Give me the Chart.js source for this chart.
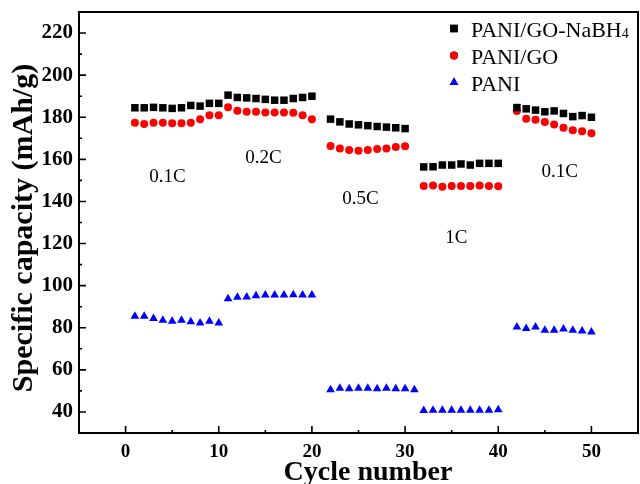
<!DOCTYPE html>
<html>
<head>
<meta charset="utf-8">
<script src="https://cdn.jsdelivr.net/npm/chart.js@4/dist/chart.umd.min.js"></script>
<style>
  html, body { margin: 0; padding: 0; background: #fff; }
  #wrap { width: 640px; height: 484px; }
</style>
</head>
<body>
<div id="wrap"><canvas id="rateChart"></canvas></div>
<script>
// rate capability data
var cyclesNaBH4 = [1,2,3,4,5,6,7,8,9,10, 11,12,13,14,15,16,17,18,19,20,
                   22,23,24,25,26,27,28,29,30, 32,33,34,35,36,37,38,39,40,
                   42,43,44,45,46,47,48,49,50];
var capNaBH4 = [184.5,184.5,184.7,184.5,184.2,184.5,185.6,185.3,186.6,186.6,
                190.5,189.4,189.2,188.9,188.5,188.1,188.1,188.9,189.4,190.0,
                179.1,177.8,176.8,176.4,176.0,175.6,175.3,175.0,174.6,
                156.4,156.5,157.3,157.3,157.8,157.3,158.1,158.1,158.1,
                184.6,184.0,183.4,182.6,183.0,181.8,180.3,180.8,180.0];

var cyclesGO = [1,2,3,4,5,6,7,8,9,10, 11,12,13,14,15,16,17,18,19,20,
                22,23,24,25,26,27,28,29,30, 32,33,34,35,36,37,38,39,40,
                42,43,44,45,46,47,48,49,50];
var capGO = [177.4,176.8,177.4,177.4,177.1,177.1,177.4,179.1,181.0,181.0,
             184.7,183.1,182.6,182.6,182.3,182.3,182.3,182.1,181.0,179.1,
             166.3,165.2,164.4,164.1,164.4,164.9,165.2,165.9,166.2,
             147.3,147.6,147.0,147.3,147.3,147.3,147.6,147.3,147.2,
             183.0,179.3,178.8,177.8,176.6,175.0,173.8,173.3,172.4];

var cyclesPANI = [1,2,3,4,5,6,7,8,9,10, 11,12,13,14,15,16,17,18,19,20,
                  22,23,24,25,26,27,28,29,30,31, 32,33,34,35,36,37,38,39,40,
                  42,43,44,45,46,47,48,49,50];
var capPANI = [85.5,85.5,84.4,83.6,83.1,83.6,82.8,82.3,83.1,82.3,
               93.8,94.5,94.6,95.2,95.5,95.5,95.6,95.7,95.5,95.5,
               50.5,51.3,51.0,51.3,51.3,51.0,51.3,51.0,51.0,50.6,
               40.7,40.8,40.8,40.8,40.8,40.8,40.8,40.8,41.0,
               80.4,79.6,80.4,78.8,78.8,79.4,78.8,78.5,78.0];

var seriesNames = ['PANI/GO-NaBH4', 'PANI/GO', 'PANI'];
var xTicks = [0, 10, 20, 30, 40, 50];
var yTicks = [40, 60, 80, 100, 120, 140, 160, 180, 200, 220];
var xTitle = 'Cycle number';
var yTitle = 'Specific capacity (mAh/g)';

// current-rate labels placed in data coordinates
var rateNotes = [
  { text: '0.1C', x: 4.5, y: 151.5 },
  { text: '0.2C', x: 14.8, y: 160.5 },
  { text: '0.5C', x: 25.2, y: 141 },
  { text: '1C', x: 35.5, y: 122.5 },
  { text: '0.1C', x: 46.6, y: 154 }
];

function toPoints(xs, ys) {
  return xs.map(function (c, i) { return { x: c, y: ys[i] }; });
}

var serif = '"Liberation Serif", "Times New Roman", serif';

// frame, inward tick marks, rate notes, axis titles and the legend
var decorations = {
  id: 'decorations',
  beforeDatasetsDraw: function (chart) {
    var ctx = chart.ctx, a = chart.chartArea, sx = chart.scales.x, sy = chart.scales.y;
    ctx.save();
    ctx.strokeStyle = '#000';
    ctx.lineWidth = 1.6;
    ctx.beginPath();
    for (var v = 0; v <= 50; v += 5) {
      var px = sx.getPixelForValue(v);
      var len = (v % 10 === 0) ? 7 : 3;
      ctx.moveTo(px, a.bottom); ctx.lineTo(px, a.bottom - len);
    }
    for (var w = 40; w <= 220; w += 10) {
      var py = sy.getPixelForValue(w);
      var l2 = (w % 20 === 0) ? 7 : 3;
      ctx.moveTo(a.left, py); ctx.lineTo(a.left + l2, py);
    }
    ctx.stroke();
    ctx.lineWidth = 2;
    ctx.strokeRect(a.left, a.top, a.right - a.left, a.bottom - a.top);

    ctx.fillStyle = '#000';
    ctx.font = '19px ' + serif;
    ctx.textAlign = 'center';
    ctx.textBaseline = 'middle';
    rateNotes.forEach(function (n) {
      ctx.fillText(n.text, sx.getPixelForValue(n.x), sy.getPixelForValue(n.y));
    });

    // axis titles
    ctx.font = 'bold 28px ' + serif;
    ctx.textBaseline = 'alphabetic';
    ctx.fillText(xTitle, 368, 480);
    ctx.save();
    ctx.translate(24, 228);
    ctx.rotate(-Math.PI / 2);
    ctx.font = 'bold 30px ' + serif;
    ctx.textBaseline = 'middle';
    ctx.fillText(yTitle, 0, 0);
    ctx.restore();
    ctx.restore();
  },
  afterDraw: function (chart) {
    var ctx = chart.ctx;
    ctx.save();
    chart.data.datasets.forEach(function (ds, i) {
      var my = 28.5 + i * 27;
      Chart.helpers.drawPoint(ctx, {
        pointStyle: ds.pointStyle, radius: ds.pointRadius, rotation: 0, borderWidth: 0
      }, 454, my);
      ctx.fillStyle = ds.backgroundColor;
      ctx.fill();
      var label = ds.label;
      var sub = '';
      if (/\d$/.test(label)) { sub = label.slice(-1); label = label.slice(0, -1); }
      ctx.fillStyle = '#000';
      ctx.textAlign = 'left';
      ctx.textBaseline = 'alphabetic';
      ctx.font = '22px ' + serif;
      ctx.fillText(label, 471, my + 8);
      if (sub) {
        var wdt = ctx.measureText(label).width;
        ctx.font = '14px ' + serif;
        ctx.fillText(sub, 471 + wdt, my + 9);
      }
    });
    ctx.restore();
  }
};

document.addEventListener("DOMContentLoaded", function () {
  var ctx = document.getElementById('rateChart').getContext('2d');
  new Chart(ctx, {
    type: 'scatter',
    data: {
      datasets: [{
        label: seriesNames[0],
        data: toPoints(cyclesNaBH4, capNaBH4),
        pointStyle: 'rect',
        pointRadius: 5.3,
        backgroundColor: '#000000',
        borderColor: '#000000',
        borderWidth: 0
      }, {
        label: seriesNames[1],
        data: toPoints(cyclesGO, capGO),
        pointStyle: 'circle',
        pointRadius: 4,
        backgroundColor: '#ff0000',
        borderColor: '#ff0000',
        borderWidth: 0
      }, {
        label: seriesNames[2],
        data: toPoints(cyclesPANI, capPANI),
        pointStyle: 'triangle',
        pointRadius: 5,
        backgroundColor: '#0000ff',
        borderColor: '#0000ff',
        borderWidth: 0
      }]
    },
    options: {
      responsive: true,
      maintainAspectRatio: false,
      animation: false,
      layout: { autoPadding: false, padding: { top: 12, right: 2, left: 0, bottom: 0 } },
      plugins: {
        legend: { display: false },
        tooltip: { enabled: false }
      },
      scales: {
        x: {
          type: 'linear',
          min: -5,
          max: 55,
          afterBuildTicks: function (scale) {
            scale.ticks = xTicks.map(function (v) { return { value: v }; });
          },
          afterFit: function (scale) {
            scale.height = 51;
            scale.paddingLeft = 0;
            scale.paddingRight = 0;
          },
          grid: { display: false, drawTicks: false },
          border: { display: false },
          ticks: {
            padding: 8,
            color: '#000',
            maxRotation: 0,
            font: { family: serif, size: 19, weight: 'bold' }
          }
        },
        y: {
          min: 30,
          max: 230,
          afterBuildTicks: function (scale) {
            scale.ticks = yTicks.map(function (v) { return { value: v }; });
          },
          afterFit: function (scale) {
            scale.width = 79;
            scale.paddingTop = 0;
            scale.paddingBottom = 0;
          },
          grid: { display: false, drawTicks: false },
          border: { display: false },
          ticks: {
            padding: 6,
            color: '#000',
            font: { family: serif, size: 21, weight: 'bold' }
          }
        }
      }
    },
    plugins: [decorations]
  });
});
</script>
</body>
</html>
